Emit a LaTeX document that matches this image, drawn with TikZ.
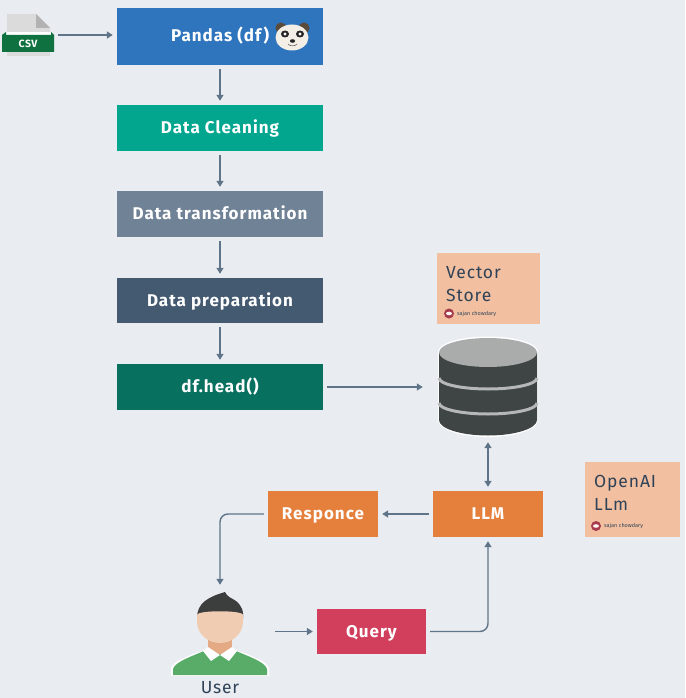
\documentclass[tikz,border=0pt]{standalone}
\usepackage{fontspec}
\setmainfont{Fira Sans}
\usetikzlibrary{arrows.meta}
\definecolor{bg}{HTML}{E9EDF1}
\definecolor{cPanda}{HTML}{2F75BD}
\definecolor{cClean}{HTML}{02A68F}
\definecolor{cTrans}{HTML}{6F8296}
\definecolor{cPrep}{HTML}{445A70}
\definecolor{cHead}{HTML}{08705F}
\definecolor{cOrange}{HTML}{E57F3C}
\definecolor{cQuery}{HTML}{D13F5C}
\definecolor{cNote}{HTML}{F2C0A0}
\definecolor{cLine}{HTML}{5F7488}
\definecolor{cInk}{HTML}{2F4257}
\definecolor{cDb}{HTML}{3F4444}
\definecolor{cDbTop}{HTML}{A9ACAB}
\definecolor{cBand}{HTML}{B5B8B7}
\definecolor{cCsv}{HTML}{0F7040}
\definecolor{cMark}{HTML}{A83A4E}
\definecolor{cShirt}{HTML}{58AC68}
\definecolor{cNeck}{HTML}{E3AA85}
\definecolor{cFace}{HTML}{F0CCB2}
\definecolor{cHair}{HTML}{3C3E3E}
\definecolor{cEar}{HTML}{5A4A3A}
\definecolor{cCream}{HTML}{F3EFE6}
\tikzset{
  x=1pt,y=-1pt,
  box/.style={rectangle,inner sep=0pt,text=white,text height=14pt,text depth=3pt,font=\fontsize{17}{18}\selectfont\bfseries\addfontfeatures{LetterSpace=6}},
  wide/.style={box,minimum width=206pt,minimum height=46pt},
  small/.style={box,minimum width=110pt,minimum height=46pt},
  note/.style={rectangle,fill=cNote,inner sep=0pt},
  notetext/.style={text=cInk,align=left,anchor=north west,inner sep=0pt,font=\fontsize{17.5}{23}\selectfont\addfontfeatures{LetterSpace=5}},
  wmark/.style={text=cInk,anchor=west,inner sep=0pt,font=\fontsize{5.5}{6}\selectfont},
  icon/.style={rectangle,inner sep=0pt},
  arr/.style={draw=cLine,line width=1.4pt,rounded corners=8pt,-{Triangle[length=6pt,width=7pt]},shorten >=4pt,shorten <=4pt},
  arrr/.style={arr,{Triangle[length=6pt,width=7pt]}-{Triangle[length=6pt,width=7pt]}},
}
\begin{document}
\begin{tikzpicture}
\useasboundingbox (0,0) rectangle (685,698);
\fill[bg] (0,0) rectangle (685,698);

% boxes
\node[wide,fill=cPanda,minimum height=57pt] (pandas) at (220,36.5) {};
\node[box,anchor=west] (pandastext) at (171,36) {Pandas (df)};
\node[wide,fill=cClean] (clean) at (220,128) {Data Cleaning};
\node[wide,fill=cTrans] (trans) at (220,214) {Data transformation};
\node[wide,fill=cPrep,minimum height=45pt] (prep) at (220,300.5) {Data preparation};
\node[wide,fill=cHead] (head) at (220,387) {df.head()};
\node[small,fill=cOrange] (llm) at (488,514) {LLM};
\node[small,fill=cOrange] (resp) at (323,514) {Responce};
\node[small,fill=cQuery,minimum width=109pt,minimum height=45pt] (query) at (371.5,631.5) {Query};

% notes
\node[note,minimum width=103pt,minimum height=71pt] (vnote) at (488.5,288.5) {};
\node[notetext] (vtext) at (446,266) {Vector\\Store};
\fill[cMark] (449,313.5) circle (5pt);
\fill[white!85!cNote] (449,313.5) ellipse (3pt and 1.8pt);
\node[wmark] (vmark) at (457,313.5) {sajan chowdary};

\node[note,minimum width=95pt,minimum height=75pt] (onote) at (632.5,499.5) {};
\node[notetext] (otext) at (594,475) {OpenAI\\LLm};
\fill[cMark] (596,526) circle (5pt);
\fill[white!85!cNote] (596,526) ellipse (3pt and 1.8pt);
\node[wmark] (omark) at (604,526) {sajan chowdary};

% csv icon
\node[icon,minimum width=52pt,minimum height=42pt] (csv) at (28,35) {};
\fill[black!14] (7,14) -- (36,14) -- (50,28) -- (50,56) -- (7,56) -- cycle;
\fill[black!30] (36,14) -- (50,28) -- (36,28) -- cycle;
\fill[white] (6,32) rectangle (51,35);
\fill[cCsv] (2,35) -- (6,32) -- (6,35) -- (51,35) -- (51,32) -- (54,35) -- (54,52) -- (2,52) -- cycle;
\node[text=white,inner sep=0pt,font=\fontsize{10.5}{11}\selectfont\bfseries\addfontfeatures{LetterSpace=5}] (csvtext) at (28,44) {CSV};

% panda
\fill[cEar] (281,28) circle (5.5pt);
\fill[cEar] (304,28) circle (5.5pt);
\fill[cCream] (292,37.5) ellipse (16.5pt and 13pt);
\fill[black!85] (285,34) ellipse (4pt and 3.5pt);
\fill[black!85] (300,34) ellipse (4pt and 3.5pt);
\fill[white] (285,34) circle (1.6pt);
\fill[white] (300,34) circle (1.6pt);
\fill[black!85] (292.5,41) ellipse (2.6pt and 1.8pt);
\draw[black!60,line width=.6pt] (288,44) .. controls (290,46.5) and (295,46.5) .. (297,44);

% database
\node[icon,minimum width=122pt,minimum height=102pt] (db) at (488,387) {};
\fill[white] (438,352) -- (438,420) arc[start angle=180,end angle=0,x radius=50,y radius=17] -- (538,352) arc[start angle=0,end angle=-180,x radius=50,y radius=15.5] -- cycle;
\fill[cDb] (439,352) -- (439,420) arc[start angle=180,end angle=0,x radius=49,y radius=15.5] -- (537,352) -- cycle;
\foreach \yy in {378,403}{
  \draw[cBand,line width=3pt] (439,\yy) arc[start angle=180,end angle=0,x radius=49,y radius=11];
}
\fill[cDbTop] (488,352.5) ellipse (49pt and 14.5pt);

% user
\node[icon,minimum width=102pt,minimum height=85pt] (user) at (220,631.5) {};
\fill[white] (171,676) -- (171,668) .. controls (173,661) and (190,655) .. (205,650) -- (235,650) .. controls (250,655) and (267,661) .. (269,668) -- (269,676) -- cycle;
\fill[cShirt] (173,675) -- (173,669) .. controls (175,662) and (190,657) .. (204,651) -- (236,651) .. controls (250,657) and (265,662) .. (267,669) -- (267,675) -- cycle;
\fill[cNeck] (208,632) rectangle (232,654);
\fill[white] (203,651) -- (208,647) -- (220,655) -- (232,647) -- (237,651) -- (229,661) -- (220,655) -- (211,661) -- cycle;
\fill[cHair] (197,618) .. controls (197,603) and (208,597) .. (225,592) .. controls (227,597) and (232,598) .. (236,601) .. controls (242,606) and (244,612) .. (243,618) -- (240,615) -- (200,615) -- cycle;
\fill[cFace] (197,615) .. controls (197,610) and (243,610) .. (243,615) -- (243,622) .. controls (243,634) and (232,643) .. (220,643) .. controls (208,643) and (197,634) .. (197,622) -- cycle;
\node[text=cInk,inner sep=0pt,font=\fontsize{17.5}{18}\selectfont\addfontfeatures{LetterSpace=4}] (usertext) at (220,688) {User};

% connectors
\draw[arr] (csv.east) -- (csv.east -| pandas.west);
\draw[arr] (pandas) -- (clean);
\draw[arr] (clean) -- (trans);
\draw[arr] (trans) -- (prep);
\draw[arr] (prep) -- (head);
\draw[arr] (head.east) -- (db.west);
\draw[arrr] (db.south) -- (llm.north);
\draw[arr] (llm.west) -- (resp.east);
\draw[arr] (resp.west) -| (user.north);
\draw[arr] (user.east) -- (query.west);
\draw[arr] (query.east) -| (llm.south);
\end{tikzpicture}
\end{document}
